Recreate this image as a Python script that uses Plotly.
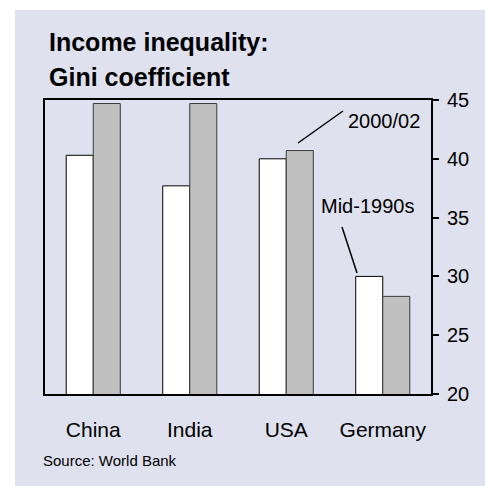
import plotly.graph_objects as go

categories = ["China", "India", "USA", "Germany"]
mid_1990s = [40.3, 37.7, 40.0, 30.0]
y2000_02 = [44.7, 44.7, 40.7, 28.3]
y_ticks = [20, 25, 30, 35, 40, 45]

FONT = "Liberation Sans, Arial, sans-serif"
PANEL = "#dfe1ee"

W, H = 485, 486
L, R, T, B = 45, 54, 100, 92
pw, ph = W - L - R, H - T - B

def px(x):
    return (x - L) / pw

def py(y):
    return (H - B - y) / ph

fig = go.Figure()
fig.add_trace(go.Bar(x=categories, y=mid_1990s, name="Mid-1990s",
                     marker=dict(color="#ffffff", line=dict(color="#000000", width=1))))
fig.add_trace(go.Bar(x=categories, y=y2000_02, name="2000/02",
                     marker=dict(color="#c0c0c0", line=dict(color="#3a3a3a", width=1))))

fig.update_layout(
    width=W, height=H,
    margin=dict(l=L, r=R, t=T, b=B, pad=0),
    paper_bgcolor=PANEL,
    plot_bgcolor=PANEL,
    barmode="group", bargap=0.44, bargroupgap=0,
    showlegend=False,
    font=dict(family=FONT, color="#000000", size=20),
    xaxis=dict(showline=True, linecolor="#000000", linewidth=2, mirror=True,
               ticks="", showgrid=False, tickfont=dict(size=21),
               ticklabelstandoff=16, fixedrange=True),
    yaxis=dict(side="right", range=[20, 45], tickvals=y_ticks,
               showline=True, linecolor="#000000", linewidth=2, mirror=True,
               ticks="outside", ticklen=6, tickwidth=2, tickcolor="#000000",
               showgrid=False, zeroline=False, tickfont=dict(size=20),
               ticklabelstandoff=4, fixedrange=True),
    shapes=[
        # white strips at top and left of the page
        dict(type="rect", xref="paper", yref="paper", layer="below",
             x0=px(-5), x1=px(W + 5), y0=py(10), y1=py(-5),
             fillcolor="#ffffff", line=dict(width=0)),
        dict(type="rect", xref="paper", yref="paper", layer="below",
             x0=px(-5), x1=px(15), y0=py(H + 5), y1=py(-5),
             fillcolor="#ffffff", line=dict(width=0)),
        dict(type="line", xref="paper", yref="paper",
             x0=px(298), y0=py(143), x1=px(343), y1=py(111),
             line=dict(color="#000000", width=1.5)),
        dict(type="line", xref="paper", yref="paper",
             x0=px(342), y0=py(227), x1=px(357), y1=py(273),
             line=dict(color="#000000", width=1.5)),
    ],
    annotations=[
        dict(text="<b>Income inequality:</b>", xref="paper", yref="paper",
             x=px(47), y=py(42), xanchor="left", yanchor="middle",
             showarrow=False, font=dict(size=25)),
        dict(text="<b>Gini coefficient</b>", xref="paper", yref="paper",
             x=px(47), y=py(77), xanchor="left", yanchor="middle",
             showarrow=False, font=dict(size=25)),
        dict(text="2000/02", xref="paper", yref="paper",
             x=px(346), y=py(121), xanchor="left", yanchor="middle",
             showarrow=False, font=dict(size=20)),
        dict(text="Mid-1990s", xref="paper", yref="paper",
             x=px(319), y=py(206), xanchor="left", yanchor="middle",
             showarrow=False, font=dict(size=20)),
        dict(text="Source: World Bank", xref="paper", yref="paper",
             x=px(41), y=py(460), xanchor="left", yanchor="middle",
             showarrow=False, font=dict(size=15)),
    ],
)

fig.write_html("out.html", config={"displayModeBar": False, "staticPlot": True})

with open("out.html", "r", encoding="utf-8") as f:
    html = f.read()
html = html.replace(
    "<head>",
    "<head><style>html,body{margin:0;padding:0;overflow:hidden;background:%s;}</style>" % PANEL,
    1,
)
with open("out.html", "w", encoding="utf-8") as f:
    f.write(html)
